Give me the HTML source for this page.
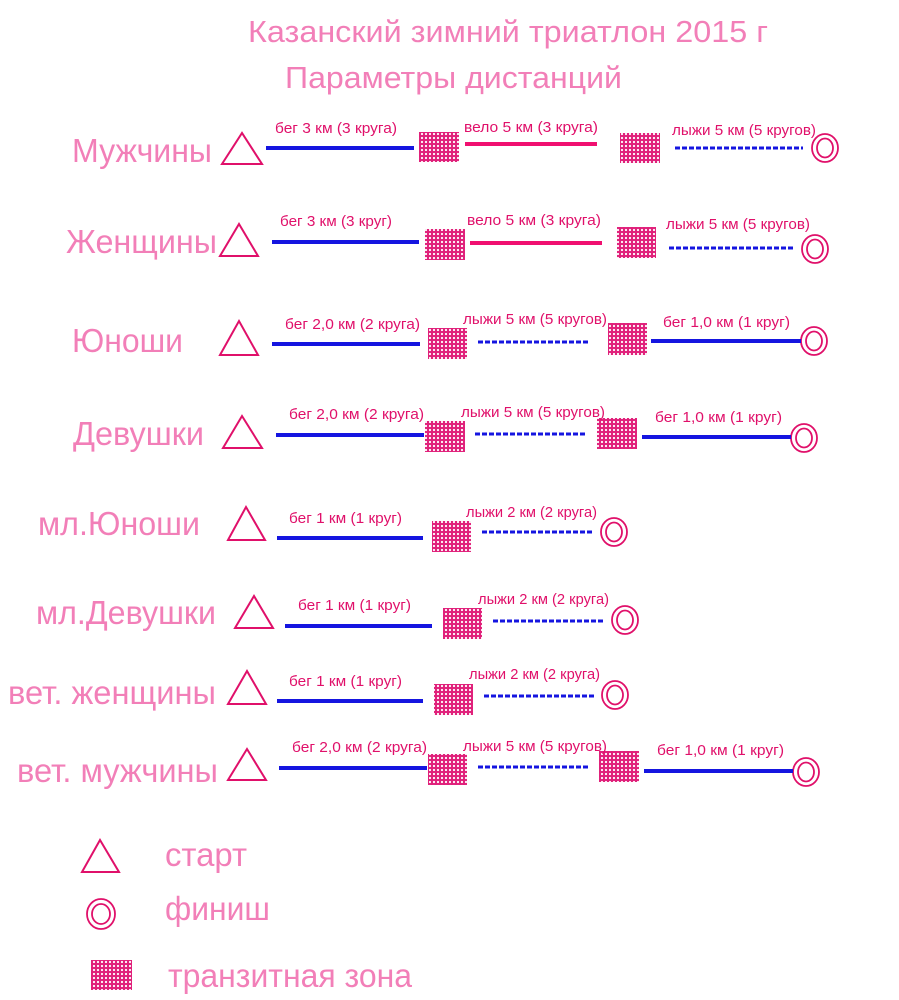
<!DOCTYPE html>
<html><head><meta charset="utf-8"><style>
html,body{margin:0;padding:0;background:#fff;}
svg{display:block;}
.t{font-family:"Liberation Sans",Arial,sans-serif;fill:#f27fb8;}
.s{font-family:"Liberation Sans",Arial,sans-serif;fill:#e0106a;font-size:15px;}
</style></head><body>
<svg width="899" height="1000" viewBox="0 0 899 1000" xmlns="http://www.w3.org/2000/svg">
<defs>
<pattern id="p" width="4" height="4" patternUnits="userSpaceOnUse">
<rect width="4" height="4" fill="#e0207a"/><circle cx="2" cy="2" r="1.1" fill="#fff"/>
</pattern>
</defs>
<g class="t">
<text x="248" y="42" font-size="31" textLength="520" lengthAdjust="spacingAndGlyphs">Казанский зимний триатлон 2015 г</text>
<text x="285" y="88" font-size="31" textLength="337" lengthAdjust="spacingAndGlyphs">Параметры дистанций</text>
<g font-size="33">
<text x="72" y="162" textLength="140" lengthAdjust="spacingAndGlyphs">Мужчины</text>
<text x="66" y="253" textLength="151" lengthAdjust="spacingAndGlyphs">Женщины</text>
<text x="72" y="352" textLength="111" lengthAdjust="spacingAndGlyphs">Юноши</text>
<text x="73" y="445" textLength="131" lengthAdjust="spacingAndGlyphs">Девушки</text>
<text x="38" y="535" textLength="162" lengthAdjust="spacingAndGlyphs">мл.Юноши</text>
<text x="36" y="624" textLength="180" lengthAdjust="spacingAndGlyphs">мл.Девушки</text>
<text x="8" y="704" textLength="208" lengthAdjust="spacingAndGlyphs">вет. женщины</text>
<text x="17" y="782" textLength="201" lengthAdjust="spacingAndGlyphs">вет. мужчины</text>
<text x="165" y="866" textLength="82" lengthAdjust="spacingAndGlyphs">старт</text>
<text x="165" y="920" textLength="105" lengthAdjust="spacingAndGlyphs">финиш</text>
<text x="168" y="987" textLength="244" lengthAdjust="spacingAndGlyphs">транзитная зона</text>
</g></g>

<g fill="none" stroke="#e0106a" stroke-width="2">
<polygon points="222,164 262,164 242,133"/>
<polygon points="220,256 258,256 239,224"/>
<polygon points="220,355 258,355 239,321"/>
<polygon points="223,448 262,448 242,416"/>
<polygon points="228,540 265,540 246,507"/>
<polygon points="235,628 273,628 254,596"/>
<polygon points="228,704 266,704 247,671"/>
<polygon points="228,780 266,780 247,749"/>
<polygon points="82,872 119,872 100,840"/>
<g stroke-width="1.8">
<ellipse cx="825" cy="148" rx="13" ry="14"/><ellipse cx="825" cy="148" rx="8" ry="9.5"/>
<ellipse cx="815" cy="249" rx="13" ry="14"/><ellipse cx="815" cy="249" rx="8" ry="9.5"/>
<ellipse cx="814" cy="341" rx="13" ry="14"/><ellipse cx="814" cy="341" rx="8" ry="9.5"/>
<ellipse cx="804" cy="438" rx="13" ry="14"/><ellipse cx="804" cy="438" rx="8" ry="9.5"/>
<ellipse cx="614" cy="532" rx="13" ry="14"/><ellipse cx="614" cy="532" rx="8" ry="9.5"/>
<ellipse cx="625" cy="620" rx="13" ry="14"/><ellipse cx="625" cy="620" rx="8" ry="9.5"/>
<ellipse cx="615" cy="695" rx="13" ry="14"/><ellipse cx="615" cy="695" rx="8" ry="9.5"/>
<ellipse cx="806" cy="772" rx="13" ry="14"/><ellipse cx="806" cy="772" rx="8" ry="9.5"/>
<ellipse cx="101" cy="914" rx="14" ry="15"/><ellipse cx="101" cy="914" rx="9" ry="10"/>
</g></g>

<g fill="url(#p)">
<rect x="419" y="132" width="40" height="30"/><rect x="620" y="133" width="40" height="30"/>
<rect x="425" y="229" width="40" height="31"/><rect x="617" y="227" width="39" height="31"/>
<rect x="428" y="328" width="39" height="31"/><rect x="608" y="323" width="39" height="32"/>
<rect x="425" y="421" width="40" height="31"/><rect x="597" y="418" width="40" height="31"/>
<rect x="432" y="521" width="39" height="31"/>
<rect x="443" y="608" width="39" height="31"/>
<rect x="434" y="684" width="39" height="31"/>
<rect x="428" y="754" width="39" height="31"/><rect x="599" y="751" width="40" height="31"/>
<rect x="91" y="960" width="41" height="30"/>
</g>

<g stroke="#1515e0" stroke-width="4">
<line x1="266" y1="148" x2="414" y2="148"/>
<line x1="272" y1="242" x2="419" y2="242"/>
<line x1="272" y1="344" x2="420" y2="344"/><line x1="651" y1="341" x2="801" y2="341"/>
<line x1="276" y1="435" x2="424" y2="435"/><line x1="642" y1="437" x2="791" y2="437"/>
<line x1="277" y1="538" x2="423" y2="538"/>
<line x1="285" y1="626" x2="432" y2="626"/>
<line x1="277" y1="701" x2="423" y2="701"/>
<line x1="279" y1="768" x2="427" y2="768"/><line x1="644" y1="771" x2="793" y2="771"/>
</g>
<g stroke="#1515e0" stroke-width="3" stroke-dasharray="5,2">
<line x1="675" y1="148" x2="803" y2="148"/>
<line x1="669" y1="248" x2="793" y2="248"/>
<line x1="478" y1="342" x2="588" y2="342"/>
<line x1="475" y1="434" x2="586" y2="434"/>
<line x1="482" y1="532" x2="592" y2="532"/>
<line x1="493" y1="621" x2="604" y2="621"/>
<line x1="484" y1="696" x2="595" y2="696"/>
<line x1="478" y1="767" x2="588" y2="767"/>
</g>
<g stroke="#f01070" stroke-width="4">
<line x1="465" y1="144" x2="597" y2="144"/>
<line x1="470" y1="243" x2="602" y2="243"/>
</g>

<g class="s" lengthAdjust="spacingAndGlyphs">
<text x="275" y="133" textLength="122" lengthAdjust="spacingAndGlyphs">бег 3 км (3 круга)</text>
<text x="464" y="132" textLength="134" lengthAdjust="spacingAndGlyphs">вело 5 км (3 круга)</text>
<text x="672" y="135" textLength="144" lengthAdjust="spacingAndGlyphs">лыжи 5 км (5 кругов)</text>
<text x="280" y="226" textLength="112" lengthAdjust="spacingAndGlyphs">бег 3 км (3 круг)</text>
<text x="467" y="225" textLength="134" lengthAdjust="spacingAndGlyphs">вело 5 км (3 круга)</text>
<text x="666" y="229" textLength="144" lengthAdjust="spacingAndGlyphs">лыжи 5 км (5 кругов)</text>
<text x="285" y="329" textLength="135" lengthAdjust="spacingAndGlyphs">бег 2,0 км (2 круга)</text>
<text x="463" y="324" textLength="144" lengthAdjust="spacingAndGlyphs">лыжи 5 км (5 кругов)</text>
<text x="663" y="327" textLength="127" lengthAdjust="spacingAndGlyphs">бег 1,0 км (1 круг)</text>
<text x="289" y="419" textLength="135" lengthAdjust="spacingAndGlyphs">бег 2,0 км (2 круга)</text>
<text x="461" y="417" textLength="144" lengthAdjust="spacingAndGlyphs">лыжи 5 км (5 кругов)</text>
<text x="655" y="422" textLength="127" lengthAdjust="spacingAndGlyphs">бег 1,0 км (1 круг)</text>
<text x="289" y="523" textLength="113" lengthAdjust="spacingAndGlyphs">бег 1 км (1 круг)</text>
<text x="466" y="517" textLength="131" lengthAdjust="spacingAndGlyphs">лыжи 2 км (2 круга)</text>
<text x="298" y="610" textLength="113" lengthAdjust="spacingAndGlyphs">бег 1 км (1 круг)</text>
<text x="478" y="604" textLength="131" lengthAdjust="spacingAndGlyphs">лыжи 2 км (2 круга)</text>
<text x="289" y="686" textLength="113" lengthAdjust="spacingAndGlyphs">бег 1 км (1 круг)</text>
<text x="469" y="679" textLength="131" lengthAdjust="spacingAndGlyphs">лыжи 2 км (2 круга)</text>
<text x="292" y="752" textLength="135" lengthAdjust="spacingAndGlyphs">бег 2,0 км (2 круга)</text>
<text x="463" y="751" textLength="144" lengthAdjust="spacingAndGlyphs">лыжи 5 км (5 кругов)</text>
<text x="657" y="755" textLength="127" lengthAdjust="spacingAndGlyphs">бег 1,0 км (1 круг)</text>
</g>
</svg>
</body></html>
